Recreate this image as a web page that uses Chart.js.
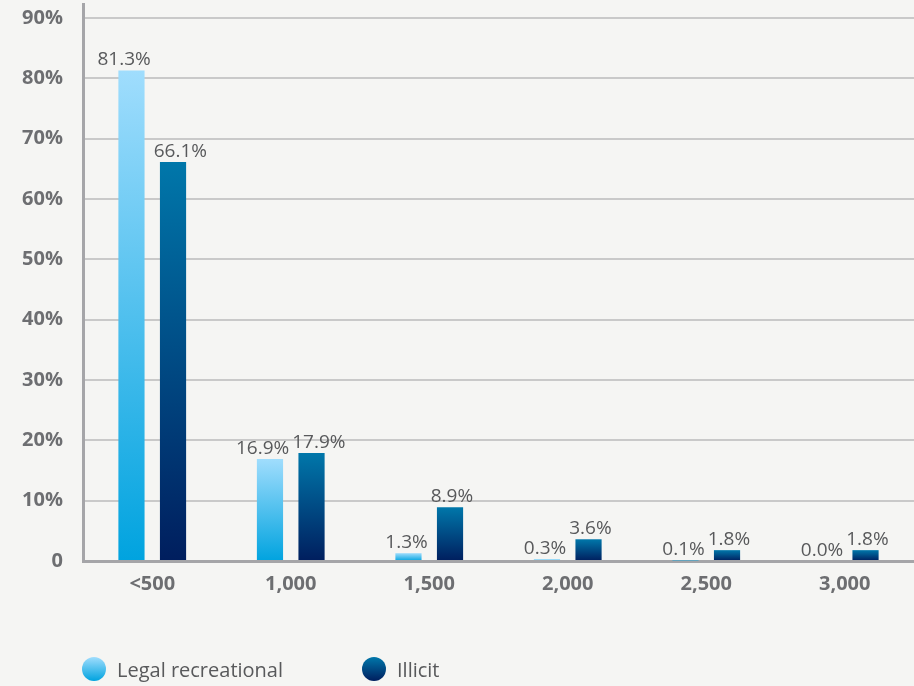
<!DOCTYPE html>
<html>
<head>
<meta charset="utf-8">
<script src="https://cdn.jsdelivr.net/npm/chart.js@4/dist/chart.umd.min.js"></script>
<style>
  html, body { margin: 0; padding: 0; background: #f5f5f3; }
  #wrap { position: relative; width: 914px; height: 686px; }
  canvas { position: absolute; left: 0; top: 0; }
  .legend { position: absolute; top: 656px; height: 26px; display: flex; align-items: center;
            font-family: "Open Sans", sans-serif; font-size: 20px; color: #58595b; }
  .dot { width: 24px; height: 24px; border-radius: 50%; margin-right: 11px; }
</style>
</head>
<body>
<div id="wrap">
  <canvas id="chart" width="914" height="686"></canvas>
  <div class="legend" id="leg1" style="left:82px"><span class="dot" id="dot1"></span><span id="lab1"></span></div>
  <div class="legend" id="leg2" style="left:362px"><span class="dot" id="dot2"></span><span id="lab2"></span></div>
</div>
<script>
// Price bands and share of purchases in each band
const categories = ['<500', '1,000', '1,500', '2,000', '2,500', '3,000'];
const seriesNames = ['Legal recreational', 'Illicit'];
const legalValues = [81.3, 16.9, 1.3, 0.3, 0.1, 0.0];
const illicitValues = [66.1, 17.9, 8.9, 3.6, 1.8, 1.8];
const yTicks = [0, 10, 20, 30, 40, 50, 60, 70, 80, 90];

const LIGHT = ['#a0ddfd', '#00a3df'];
const DARK = ['#0077aa', '#001e5e'];

document.getElementById('lab1').textContent = seriesNames[0];
document.getElementById('lab2').textContent = seriesNames[1];
document.getElementById('dot1').style.background = `linear-gradient(${LIGHT[0]}, ${LIGHT[1]})`;
document.getElementById('dot2').style.background = `linear-gradient(${DARK[0]}, ${DARK[1]})`;

// vertical gradient spanning each individual bar
function barGradient(colors) {
  return (ctx) => {
    const chart = ctx.chart;
    if (!chart.chartArea || ctx.type !== 'data') return colors[0];
    const y = chart.scales.y;
    const v = ctx.dataset.data[ctx.dataIndex];
    const top = y.getPixelForValue(v);
    const base = y.getPixelForValue(0);
    if (base - top < 1) return colors[1];
    const g = chart.ctx.createLinearGradient(0, top, 0, base);
    g.addColorStop(0, colors[0]);
    g.addColorStop(1, colors[1]);
    return g;
  };
}

// value labels above each bar; the pair in a band is pushed apart when the texts would touch
const valueLabels = {
  id: 'valueLabels',
  afterDatasetsDraw(chart) {
    const c = chart.ctx;
    c.save();
    c.font = '19px "Open Sans", sans-serif';
    c.fillStyle = '#58595b';
    c.textAlign = 'center';
    c.textBaseline = 'alphabetic';
    const left = chart.getDatasetMeta(0).data;
    const right = chart.getDatasetMeta(1).data;
    categories.forEach((_, j) => {
      const tA = chart.data.datasets[0].data[j].toFixed(1) + '%';
      const tB = chart.data.datasets[1].data[j].toFixed(1) + '%';
      const wA = c.measureText(tA).width, wB = c.measureText(tB).width;
      let xA = left[j].x, xB = right[j].x;
      const overlap = (xA + wA / 2 + 3) - (xB - wB / 2);
      if (overlap > 0) { xA -= overlap / 2; xB += overlap / 2; }
      c.fillText(tA, xA, left[j].y - 5);
      c.fillText(tB, xB, right[j].y - 5);
    });
    c.restore();
  }
};

const tickFont = { family: '"Open Sans", sans-serif', size: 20, weight: 'bold' };

new Chart(document.getElementById('chart'), {
  type: 'bar',
  data: {
    labels: categories,
    datasets: [
      { label: seriesNames[0], data: legalValues, backgroundColor: barGradient(LIGHT) },
      { label: seriesNames[1], data: illicitValues, backgroundColor: barGradient(DARK) }
    ]
  },
  options: {
    responsive: false,
    animation: false,
    devicePixelRatio: 1,
    layout: { padding: { top: 4, right: 0, bottom: 80, left: 0 } },
    datasets: { bar: { categoryPercentage: 0.6, barPercentage: 0.63 } },
    plugins: { legend: { display: false }, tooltip: { enabled: false } },
    scales: {
      x: {
        grid: { display: false, drawTicks: false },
        border: { color: '#a5a5a8', width: 3 },
        ticks: { padding: 11, color: '#6d6e71', font: tickFont },
        afterFit: (s) => { s.height = 45; s.paddingLeft = 0; s.paddingRight = 0; }
      },
      y: {
        min: 0,
        max: 92.3,
        afterBuildTicks: (s) => { s.ticks = yTicks.map(v => ({ value: v })); },
        grid: { color: (ctx) => ctx.tick && ctx.tick.value === 0 ? 'rgba(0,0,0,0)' : '#c9c9c9', lineWidth: 2, drawTicks: false },
        border: { color: '#a5a5a8', width: 3 },
        ticks: {
          padding: 20,
          color: '#6d6e71',
          font: tickFont,
          callback: (v) => v === 0 ? '0' : v + '%'
        },
        afterFit: (s) => { s.width = 83; s.paddingTop = 0; s.paddingBottom = 0; }
      }
    }
  },
  plugins: [valueLabels]
});
</script>
</body>
</html>
